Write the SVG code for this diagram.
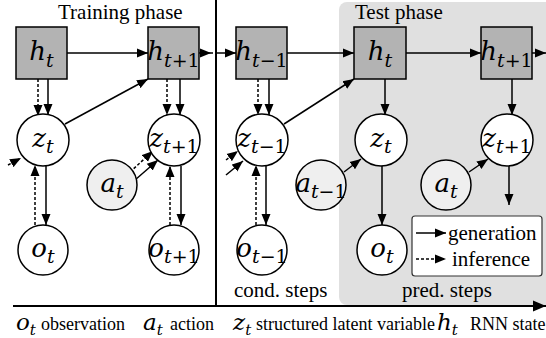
<svg xmlns="http://www.w3.org/2000/svg" width="546" height="338" viewBox="0 0 546 338">
  <style>
    .lbl { font-family: "Liberation Serif", "Times New Roman", serif; fill: #000; }
    .title { font-size: 21px; }
    .small { font-size: 18px; }
    .math { font-family: "DejaVu Serif", "Liberation Serif", serif; font-style: italic; font-size: 26px; fill: #000; }
    .sub { font-size: 19px; }
    .up { font-style: normal; }
    .key { font-size: 23px; }
    .ksub { font-size: 15px; }
    .box { fill: #b3b3b3; stroke: #000; stroke-width: 1.5; }
    .node { fill: #fff; stroke: #000; stroke-width: 1.5; }
    .act { fill: #efefef; stroke: #000; stroke-width: 1.5; }
    .gen { stroke: #000; stroke-width: 1.5; fill: none; marker-end: url(#head); }
    .inf { stroke: #000; stroke-width: 1.5; fill: none; stroke-dasharray: 3 2; marker-end: url(#head); }
  </style>
  <defs>
    <marker id="head" markerUnits="userSpaceOnUse" markerWidth="12" markerHeight="10" refX="11" refY="5" orient="auto">
      <path d="M0,0.5 L11,5 L0,9.5 z" fill="#000"/>
    </marker>
    <marker id="axhead" markerUnits="userSpaceOnUse" markerWidth="14" markerHeight="12" refX="13" refY="6" orient="auto">
      <path d="M0,0.5 L13,6 L0,11.5 z" fill="#000"/>
    </marker>
  </defs>

  <rect width="546" height="338" fill="#fff"/>

  <!-- test phase background -->
  <rect x="339" y="2" width="215" height="303" rx="8" fill="#e0e0e0"/>

  <!-- phase titles -->
  <text class="lbl title" x="58" y="19">Training phase</text>
  <text class="lbl title" x="355" y="19">Test phase</text>
  <text class="lbl title" x="234" y="297">cond. steps</text>
  <text class="lbl title" x="402" y="297">pred. steps</text>

  <!-- phase separator and time axis -->
  <line x1="216" y1="0" x2="216" y2="306" stroke="#000" stroke-width="2"/>
  <line x1="13" y1="306" x2="546" y2="306" stroke="#000" stroke-width="2" marker-end="url(#axhead)"/>

  <g id="connectors">
    <!-- recurrent state transitions -->
    <line class="gen" x1="67" y1="53" x2="148" y2="53"/>
    <line class="gen" x1="199" y1="53" x2="211" y2="53"/>
    <line x1="211" y1="53" x2="213" y2="53" stroke="#000" stroke-width="1.5"/>
    <line class="gen" x1="215" y1="53" x2="236" y2="53"/>
    <line class="gen" x1="287" y1="53" x2="354" y2="53"/>
    <line class="gen" x1="406" y1="53" x2="481" y2="53"/>
    <line class="gen" x1="532" y1="53" x2="546" y2="53"/>

    <!-- latent to next state -->
    <line class="gen" x1="65" y1="124" x2="148" y2="79"/>
    <line class="gen" x1="284" y1="124" x2="354" y2="79"/>

    <!-- state to latent -->
    <line class="inf" x1="38" y1="79" x2="38" y2="116"/>
    <line class="gen" x1="48" y1="79" x2="48" y2="115"/>
    <line class="inf" x1="167" y1="79" x2="167" y2="115"/>
    <line class="gen" x1="180" y1="79" x2="180" y2="115"/>
    <line class="inf" x1="258" y1="79" x2="258" y2="115"/>
    <line class="gen" x1="269" y1="79" x2="269" y2="115"/>
    <line class="gen" x1="385" y1="79" x2="385" y2="115"/>
    <line class="gen" x1="512" y1="79" x2="512" y2="115"/>

    <!-- latent / observation -->
    <line class="gen" x1="46" y1="166" x2="46" y2="225"/>
    <line class="inf" x1="35" y1="225" x2="35" y2="165"/>
    <line class="gen" x1="181" y1="166" x2="181" y2="225"/>
    <line class="inf" x1="170" y1="225" x2="170" y2="166"/>
    <line class="gen" x1="266" y1="166" x2="266" y2="225"/>
    <line class="inf" x1="256" y1="225" x2="256" y2="165"/>
    <line class="gen" x1="382" y1="166" x2="382" y2="225"/>
    <line class="gen" x1="509" y1="166" x2="509" y2="205"/>

    <!-- action to latent -->
    <line class="inf" x1="130" y1="172" x2="153" y2="151"/>
    <line class="gen" x1="135" y1="180" x2="158" y2="160"/>
    <line class="gen" x1="344" y1="172" x2="361" y2="159"/>
    <line class="gen" x1="469" y1="172" x2="488" y2="159"/>

    <!-- incoming from earlier steps -->
    <line class="inf" x1="8" y1="165" x2="21" y2="158"/>
    <line class="inf" x1="226" y1="160" x2="238" y2="151"/>
    <line class="gen" x1="226" y1="175" x2="243" y2="161"/>
  </g>

  <!-- training phase nodes -->
  <g id="h_t">
    <rect class="box" x="16" y="27" width="51" height="52"/>
    <text class="math" x="41.5" y="60" text-anchor="middle">h<tspan class="sub" dy="7">t</tspan></text>
  </g>
  <g id="h_t1">
    <rect class="box" x="148" y="27" width="51" height="52"/>
    <text class="math" x="173.5" y="60" text-anchor="middle">h<tspan class="sub" dy="7">t<tspan class="up">+1</tspan></tspan></text>
  </g>
  <g id="z_t">
    <circle class="node" cx="43" cy="140" r="26"/>
    <text class="math" x="43" y="147" text-anchor="middle">z<tspan class="sub" dy="6">t</tspan></text>
  </g>
  <g id="z_t1">
    <circle class="node" cx="174" cy="140" r="26"/>
    <text class="math" x="174" y="147" text-anchor="middle">z<tspan class="sub" dy="6">t<tspan class="up">+1</tspan></tspan></text>
  </g>
  <g id="a_t">
    <circle class="act" cx="112" cy="185" r="25"/>
    <text class="math" x="112" y="192" text-anchor="middle">a<tspan class="sub" dy="6">t</tspan></text>
  </g>
  <g id="o_t">
    <circle class="node" cx="43" cy="250" r="25"/>
    <text class="math" x="43" y="257" text-anchor="middle">o<tspan class="sub" dy="6">t</tspan></text>
  </g>
  <g id="o_t1">
    <circle class="node" cx="174" cy="250" r="25"/>
    <text class="math" x="174" y="257" text-anchor="middle">o<tspan class="sub" dy="6">t<tspan class="up">+1</tspan></tspan></text>
  </g>

  <!-- conditioning step nodes -->
  <g id="h_tm1">
    <rect class="box" x="236" y="27" width="51" height="52"/>
    <text class="math" x="261.5" y="60" text-anchor="middle">h<tspan class="sub" dy="7">t<tspan class="up">−1</tspan></tspan></text>
  </g>
  <g id="z_tm1">
    <circle class="node" cx="262" cy="140" r="26"/>
    <text class="math" x="262" y="147" text-anchor="middle">z<tspan class="sub" dy="6">t<tspan class="up">−1</tspan></tspan></text>
  </g>
  <g id="a_tm1">
    <circle class="act" cx="321" cy="185" r="25"/>
    <text class="math" x="321" y="192" text-anchor="middle">a<tspan class="sub" dy="6">t<tspan class="up">−1</tspan></tspan></text>
  </g>
  <g id="o_tm1">
    <circle class="node" cx="262" cy="250" r="25"/>
    <text class="math" x="262" y="257" text-anchor="middle">o<tspan class="sub" dy="6">t<tspan class="up">−1</tspan></tspan></text>
  </g>

  <!-- prediction step nodes -->
  <g id="h_t_test">
    <rect class="box" x="354" y="27" width="52" height="52"/>
    <text class="math" x="380" y="60" text-anchor="middle">h<tspan class="sub" dy="7">t</tspan></text>
  </g>
  <g id="h_t1_test">
    <rect class="box" x="481" y="27" width="51" height="52"/>
    <text class="math" x="506.5" y="60" text-anchor="middle">h<tspan class="sub" dy="7">t<tspan class="up">+1</tspan></tspan></text>
  </g>
  <g id="z_t_test">
    <circle class="node" cx="381" cy="140" r="26"/>
    <text class="math" x="381" y="147" text-anchor="middle">z<tspan class="sub" dy="6">t</tspan></text>
  </g>
  <g id="z_t1_test">
    <circle class="node" cx="507" cy="140" r="26"/>
    <text class="math" x="507" y="147" text-anchor="middle">z<tspan class="sub" dy="6">t<tspan class="up">+1</tspan></tspan></text>
  </g>
  <g id="a_t_test">
    <circle class="act" cx="446" cy="185" r="25"/>
    <text class="math" x="446" y="192" text-anchor="middle">a<tspan class="sub" dy="6">t</tspan></text>
  </g>
  <g id="o_t_test">
    <circle class="node" cx="382" cy="250" r="25"/>
    <text class="math" x="382" y="257" text-anchor="middle">o<tspan class="sub" dy="6">t</tspan></text>
  </g>

  <!-- edge legend -->
  <g id="legend">
    <rect x="412" y="216" width="130" height="60" rx="3" fill="#fff" stroke="#333" stroke-width="1.2"/>
    <line class="gen" x1="416" y1="233" x2="446" y2="233"/>
    <line class="inf" x1="416" y1="259" x2="446" y2="259"/>
    <text class="lbl title" x="448" y="240">generation</text>
    <text class="lbl title" x="452" y="266">inference</text>
  </g>

  <!-- variable key -->
  <g id="key">
    <text class="math key" x="16" y="330">o<tspan class="ksub" dy="5">t</tspan></text>
    <text class="lbl small" x="41" y="330">observation</text>
    <text class="math key" x="143" y="330">a<tspan class="ksub" dy="5">t</tspan></text>
    <text class="lbl small" x="170" y="330">action</text>
    <text class="math key" x="233" y="330">z<tspan class="ksub" dy="5">t</tspan></text>
    <text class="lbl small" x="256" y="330">structured latent variable</text>
    <text class="math key" x="437" y="330">h<tspan class="ksub" dy="5">t</tspan></text>
    <text class="lbl small" x="470" y="330">RNN state</text>
  </g>
</svg>
